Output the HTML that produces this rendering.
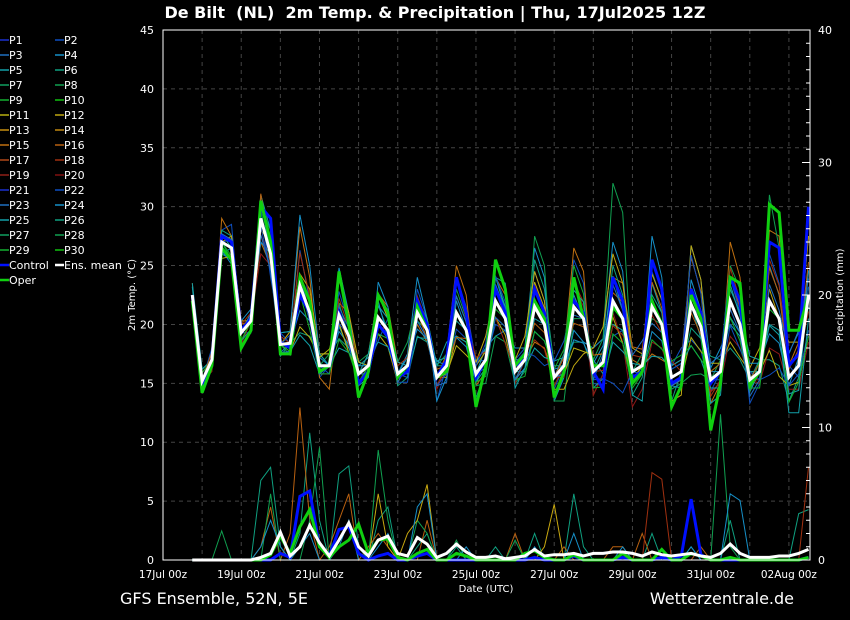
<!DOCTYPE html>
<html><head><meta charset="utf-8"><style>
body{margin:0;background:#000;width:850px;height:620px;overflow:hidden;font-family:"Liberation Sans","DejaVu Sans",sans-serif}
svg{display:block}
text{font-family:"DejaVu Sans","Liberation Sans",sans-serif}
</style></head><body>
<svg id="c" width="850" height="620">
<text x="435" y="18" fill="#fff" font-size="16" font-weight="bold" text-anchor="middle" xml:space="preserve" style="white-space:pre">De Bilt  (NL)  2m Temp. &amp; Precipitation | Thu, 17Jul2025 12Z</text>
<text x="120" y="604" fill="#fff" font-size="16">GFS Ensemble, 52N, 5E</text>
<text x="794" y="604" fill="#fff" font-size="16" text-anchor="end">Wetterzentrale.de</text>
<text x="135" y="295" fill="#fff" font-size="10" text-anchor="middle" transform="rotate(-90 135 295)">2m Temp. (°C)</text>
<text x="843" y="295" fill="#fff" font-size="10" text-anchor="middle" transform="rotate(-90 843 295)">Precipitation (mm)</text>
<text x="486" y="592" fill="#fff" font-size="10" text-anchor="middle">Date (UTC)</text>
<g id="grid"></g><g id="series"></g><g id="axes"></g><g id="legend"></g>
</svg>
<script>
const dayLabels=["17Jul 00z","19Jul 00z","21Jul 00z","23Jul 00z","25Jul 00z","27Jul 00z","29Jul 00z","31Jul 00z","02Aug 00z"];
const tempTicks=[0,5,10,15,20,25,30,35,40,45];
const precTicks=[0,10,20,30,40];
const meanT=[22.5,15.2,17,27,26.5,19.3,20.3,29,26,18.3,18.4,23.3,21,16.5,16.5,20.8,19,15.8,16.5,20.6,19.5,15.8,16.5,21,19.5,15.5,16.5,21,19.5,15.8,17,22,20.5,16,17,21.5,20,15.5,16.5,21.5,20.5,16,16.8,22,20.5,16,16.5,21.5,20,15.5,16,21.7,19.8,15.3,16,22,20,15.3,16,22,20.5,15.5,16.5,22.5];
const controlT=[22.5,15,17,27.5,27,19.5,20.5,30,29,18.5,18,22.5,21,16,16.5,21,19,15,16,20,19,15.5,16,22,20,15.5,17,24,21,15.5,17,23,21,16.5,17,23,21,15.5,16.5,22,21,16,14.5,24,22,15.5,16,25.5,23,15,15.5,23,21,15,16,24,22,15,16,27,26.5,16.5,17.5,30];
const operT=[22,14.2,16.5,26.5,25.5,18,19.5,30.5,27,17.5,17.5,24,22,16,16.5,24.5,20,13.8,16,22.5,21,15.5,16.5,21.5,19.5,15.5,16,21,19.5,13,16.5,25.5,23,16.5,17.5,22,20.5,13.8,16,24,20.5,16.5,16.5,21.5,20.5,15,16,22,20,13,14.8,22.5,20.5,11,15,24,23.5,14.8,16,30.2,29.5,19.5,19.5,22.5];
const devA=[0,0,1,1,2,0,-1,1,-2,1,0,3,1,-1,0,2,1,-1,0,-2,1,0,-1,2,1,-2,0,3,2,1,0,-2,-1,1,1,3,2,-1,0,4,3,-1,-2,-3,-1,0,1,3,2,1,2,-3,-2,-1,0,2,1,-2,-1,4,3,1,-1,-3];
const devB=[1,-1,0,2,1,1,0,-2,-1,0,1,5,3,-1,-2,1,2,0,1,2,2,1,0,-1,-1,0,1,4,3,-1,-1,2,2,1,0,-3,-2,0,1,5,4,-2,-1,2,3,1,0,-4,-3,1,1,4,3,-2,-1,5,4,-1,0,6,7,1,2,5];
const devC=[0,1,0,1,1,-1,-1,2,1,-1,0,-4,-2,1,1,-2,-1,1,0,1,0,-1,-1,-2,-1,1,0,-2,-1,-2,-1,2,3,0,-1,4,3,1,0,-3,-2,0,1,3,2,-2,-1,1,1,-2,0,-2,-1,2,1,-4,-3,0,1,-5,-4,-2,-1,2];
const devD=[-1,0,0,-1,0,1,1,-2,0,1,1,6,4,1,0,4,2,-1,-1,3,2,0,1,3,1,-2,-1,1,0,1,1,-3,-1,2,1,5,4,-2,-1,-2,-2,2,2,5,4,-1,0,6,4,-1,-1,5,4,1,2,-2,-1,-1,0,3,2,2,3,-1];
const devE=[0,1,0,0,-1,0,0,1,2,0,-1,-1,0,0,1,1,0,1,1,2,1,1,2,1,1,1,1,2,1,-1,-2,-3,-2,-1,-1,6,5,-2,-3,-1,0,1,2,10,9,0,1,-1,0,-1,-1,-6,-4,0,1,3,3,-1,1,9,6,1,1,-1];
const devF=[0,-1,0,0,1,1,0,-1,1,0,1,1,2,1,1,3,2,1,0,2,1,1,0,1,0,0,-1,-2,-1,1,2,1,0,1,2,3,2,-1,-2,-5,-3,2,3,4,3,2,1,4,3,-2,-2,5,4,-1,-1,2,2,1,2,1,0,3,2,5];
const devG=[0,0,-1,0,0,-1,0,-3,-1,0,0,1,0,0,0,0,1,0,0,0,0,1,0,0,1,-1,0,3,1,0,0,0,0,-1,0,2,1,0,-1,2,1,-2,-1,-1,-2,-3,-2,-3,-2,0,0,1,1,-1,-1,-3,-2,0,-1,-4,-3,-1,-2,-4];
const devH=[1,1,0,-1,-1,0,0,2,2,1,1,0,1,1,0,-1,-1,0,1,1,1,1,0,1,1,1,2,-2,-1,0,1,2,1,1,0,-1,0,0,1,1,0,1,-1,-2,-1,-2,-3,2,1,1,1,0,-1,-2,-2,1,1,2,1,-2,-1,-3,-4,-2];
const precMean=[0,0,0,0,0,0,0,0.2,0.5,2.1,0.3,1,2.6,1.3,0.3,1.5,2.8,1,0.3,1.5,1.8,0.5,0.3,1.7,1.2,0.2,0.5,1.2,0.6,0.2,0.2,0.3,0.1,0.2,0.3,0.8,0.3,0.4,0.4,0.5,0.3,0.5,0.5,0.6,0.6,0.5,0.3,0.6,0.4,0.3,0.4,0.5,0.3,0.2,0.5,1.2,0.5,0.2,0.2,0.2,0.3,0.3,0.5,0.8];
const precControl=[0,0,0,0,0,0,0,0,0,0.5,0.2,4.8,5.2,1,0.3,2.3,2.5,0.5,0,0.3,0.5,0,0,0.3,0.5,0,0,0,0,0,0,0,0,0,0,0.2,0,0,0,0.3,0,0,0,0,0.2,0,0,0,0.2,0,0.3,4.6,0.4,0,0,0,0,0,0,0,0,0,0,0.2];
const precOper=[0,0,0,0,0,0,0,0,0.4,1.8,0.5,2.5,3.8,1,0.2,1,1.5,2.7,0.5,1.5,1.6,0.2,0,0.5,0.8,0,0,0.5,0.3,0,0,0,0,0,0.5,0.7,0.2,0,0,0.4,0,0,0,0,0.5,0,0,0,0.8,0,0,0.5,0.3,0,0,0.2,0,0,0,0,0,0,0,0.2];
const precA=[0,0,0,0,0,0,0,6,7,1,0,2,9.6,3,0,6.5,7.1,1,0,3,4,0,0,1,2,0,0,1,0,0,0,1,0,0,0,2,0,0,0,5,1,0,0,0,0,0,0,2,0,0,0,1,0,0,0,3,0,0,0,0,0,0,3.5,3.8];
const precB=[0,0,0,0,0,0,0,1,4,0,2,11.5,3,0,1,3,5,0,1,2,1,0,0,0,3,0,0,0,0,0,0,0,0,2,0,0,0,0,1,0,0,0,0,1,1,0,2,0,0,0,0,0,1,0,0,0,0,0,0,0,0,0,0,0];
const precC=[0,0,0,2.2,0,0,0,0,5,0,0,0,3,8.5,0,0,0,0,0,8.3,3,0,0,3,2,0,0,1.5,0,0,0,0,0,1.5,0,0,0,0,0,0,0,0,0,0,0,0,0,0,0,0,0,0,0,0,11,1,0,0,0,0,0,0,0,0];
const precD=[0,0,0,0,0,0,0,0,0,0,0,0,0,0,0,0,0,0,0,0,0,0,0,0,0,0,0,0,0,0,0,0,0,0,0,0,0,0,0,0,0,0,0,0,0,0,0,6.6,6.1,0,0,0,0,0,0,0,0,0,0,0,0,0,0,7];
const precE=[0,0,0,0,0,0,0,0,0,0,0,0,0,0,0,0,0,0,0,5,1,0,2,3,5.7,0,0,0,0,0,0,0,0,0,0,0,1,4.2,0,0,0,0,0,0,0,0,0,0,0,0,0,0,0,0,0,0,0,0,0,0,0,0,0,0];
const precF=[0,0,0,0,0,0,0,1,3,1,0,1,2,0,0,1,3,0,0,1,2,0,0,4,5,0,0,0,1,0,0,0,0,0,0,1,0,0,0,2,0,0,0,0,1,0,0,0,0,0,0,1,0,0,0,5,4.5,0,0,0,0,0,0,0];
const memberColors=["#1a30d0","#0e4fc0","#1f70c0","#1690c8","#12a0a8","#0fa080","#10a060","#10a050","#12b030","#10c010","#b8b010","#c0a810","#c89010","#c08810","#c07010","#b86010","#b04818","#a03010","#902018","#801010","#1a30d0","#0e4fc0","#1f70c0","#1690c8","#12a0a8","#0fa080","#10a060","#10a050","#12b030","#10c010"];
const legendLabels=["P1","P2","P3","P4","P5","P6","P7","P8","P9","P10","P11","P12","P13","P14","P15","P16","P17","P18","P19","P20","P21","P22","P23","P24","P25","P26","P27","P28","P29","P30","Control","Ens. mean","Oper"];

const NS="http://www.w3.org/2000/svg";
const X0=163,X1=810,Y0=30,Y1=560,DAY=39.12;
function xs(i){return X0+(0.75+i*0.25)*DAY;}
function yT(v){return Y1-v*(Y1-Y0)/45;}
function yP(v){return Y1-v*(Y1-Y0)/40;}
function mk(tag,attrs,parent){const e=document.createElementNS(NS,tag);for(const k in attrs)e.setAttribute(k,attrs[k]);parent.appendChild(e);return e;}
const grid=document.getElementById('grid'),ser=document.getElementById('series'),axes=document.getElementById('axes'),leg=document.getElementById('legend');

for(let d=1;d<=16;d++){const l=mk('line',{x1:X0+d*DAY,x2:X0+d*DAY,y1:Y0,y2:Y1,stroke:'#444','stroke-dasharray':'4,4','stroke-width':1},grid);

}
tempTicks.forEach(t=>{if(t>0&&t<45){const l=mk('line',{x1:X0,x2:X1,y1:yT(t),y2:yT(t),stroke:'#444','stroke-dasharray':'4,4'},grid);

}
const tx=mk('text',{x:X0-9,y:yT(t)+4,fill:'#fff','font-size':11,'text-anchor':'end'},axes);tx.textContent=t;

});
precTicks.forEach(t=>{const tx=mk('text',{x:X1+8,y:yP(t)+4,fill:'#fff','font-size':11},axes);tx.textContent=t;

});
for(let m=0;m<=40;m++){const len=m%10==0?8:4;const l=mk('line',{x1:X1-len,x2:X1,y1:yP(m),y2:yP(m),stroke:'#fff'},axes);

}
dayLabels.forEach((s,k)=>{const tx=mk('text',{x:X0+k*2*DAY,y:578,fill:'#fff','font-size':10.5,'text-anchor':'middle'},axes);tx.textContent=s;

});
const fr=mk('rect',{x:X0,y:Y0,width:X1-X0,height:Y1-Y0,fill:'none',stroke:'#fff','stroke-width':1},axes);



function line(vals,yf,color,w,name){const p=vals.map((v,i)=>(i?'L':'M')+xs(i).toFixed(1)+','+yf(v).toFixed(1)).join('');
const e=mk('path',{d:p,fill:'none',stroke:color,'stroke-width':w,'stroke-linejoin':'miter'},ser);

}
const devs=[devA,devB,devC,devD,devE,devF,devG,devH];
const devColors=["#0e4fc0","#c07010","#10a080","#1690c8","#10a050","#c0a810","#901818","#12a0a8"];
devs.forEach((d,k)=>line(meanT.map((v,i)=>v+d[i]),yT,devColors[k],1,'member-temp-line'));
devs.forEach((d,k)=>line(meanT.map((v,i)=>v-d[i]*0.7),yT,memberColors[(k*7+3)%30],1,'member-temp-line'));
const precs=[precA,precB,precC,precD,precE,precF];
const precColors=["#0fa080","#b86010","#10a050","#a03010","#c8a810","#1690c8"];
precs.forEach((p,k)=>line(p,yP,precColors[k],1,'member-precip-line'));
line(controlT,yT,'#0010ff',3,'control-temp-line');
line(operT,yT,'#10d010',3,'oper-temp-line');
line(precControl,yP,'#0010ff',3,'control-precip-line');
line(precOper,yP,'#10d010',3,'oper-precip-line');
line(meanT,yT,'#ffffff',3,'mean-temp-line');
line(precMean,yP,'#ffffff',3,'mean-precip-line');

legendLabels.forEach((s,k)=>{const col=k%2,row=Math.floor(k/2);const x=col?55:0,y=40+row*15;
let c=k<30?memberColors[k]:(s=='Control'?'#0010ff':s=='Oper'?'#10d010':'#fff');
const l=mk('line',{x1:x,x2:x+9,y1:y,y2:y,stroke:c,'stroke-width':k<30?1.5:2.5},leg);


const t=mk('text',{x:x+9,y:y+4,fill:'#fff','font-size':11},leg);t.textContent=s;

});
</script>
</body></html>
